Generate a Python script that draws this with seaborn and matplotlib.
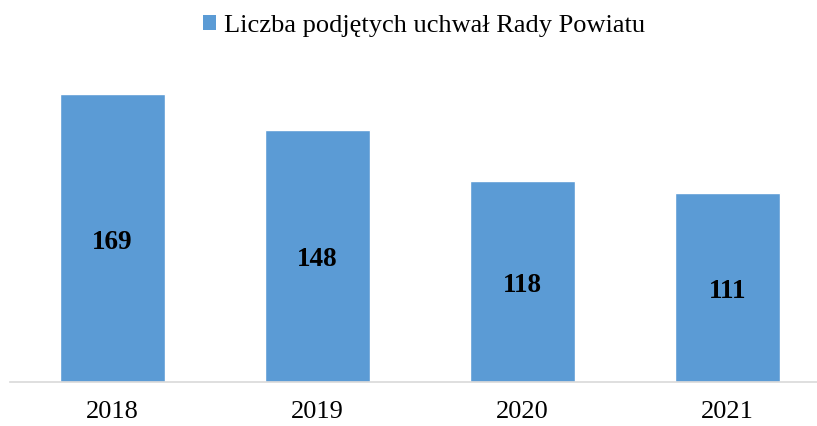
import matplotlib
matplotlib.use("Agg")
import matplotlib.pyplot as plt
import seaborn as sns
import pandas as pd
from matplotlib.patches import Patch

# Data
years = ["2018", "2019", "2020", "2021"]
resolutions = [169, 148, 118, 111]
series_name = "Liczba podjętych uchwał Rady Powiatu"

BAR_COLOR = "#5B9BD5"

sns.set_theme(style="white")
plt.rcParams["font.family"] = ["Liberation Serif", "DejaVu Serif"]
plt.rcParams["text.color"] = "black"

df = pd.DataFrame({"year": years, "count": resolutions})

W, H = 817, 426
fig = plt.figure(figsize=(W / 100, H / 100), dpi=100)
# axes placed in pixel terms: left 10, baseline at y=381
px_per_unit = 287 / 169
ymax = 180
ax_h = ymax * px_per_unit
ax_w = W - 10
ax = fig.add_axes([10 / W, 1 - 381.5 / H, ax_w / W, ax_h / H])

sns.barplot(data=df, x="year", y="count", color=BAR_COLOR, width=0.512,
            saturation=1, ax=ax)

ax.set_xlim(-0.5, -0.5 + ax_w / 205)
ax.set_ylim(0, ymax)
ax.set_xlabel("")
ax.set_ylabel("")
ax.set_yticks([])
for s in ["top", "right", "left"]:
    ax.spines[s].set_visible(False)
ax.spines["bottom"].set_color("#d9d9d9")
ax.spines["bottom"].set_linewidth(1.2)
ax.tick_params(axis="x", length=0, pad=14, labelsize=19, colors="black")

ax.bar_label(ax.containers[0], labels=[str(v) for v in resolutions],
             label_type="center", fontsize=19.5, fontweight="bold", color="black",
             padding=-3)

handle = Patch(facecolor=BAR_COLOR, edgecolor="none")
fig.legend([handle], [series_name], loc="center", bbox_to_anchor=(424 / W, 1 - 26 / H),
           frameon=False, fontsize=19, handlelength=0.5, handleheight=0.5,
           handletextpad=0.3, labelcolor="black")

fig.savefig("out.png", dpi=100)
